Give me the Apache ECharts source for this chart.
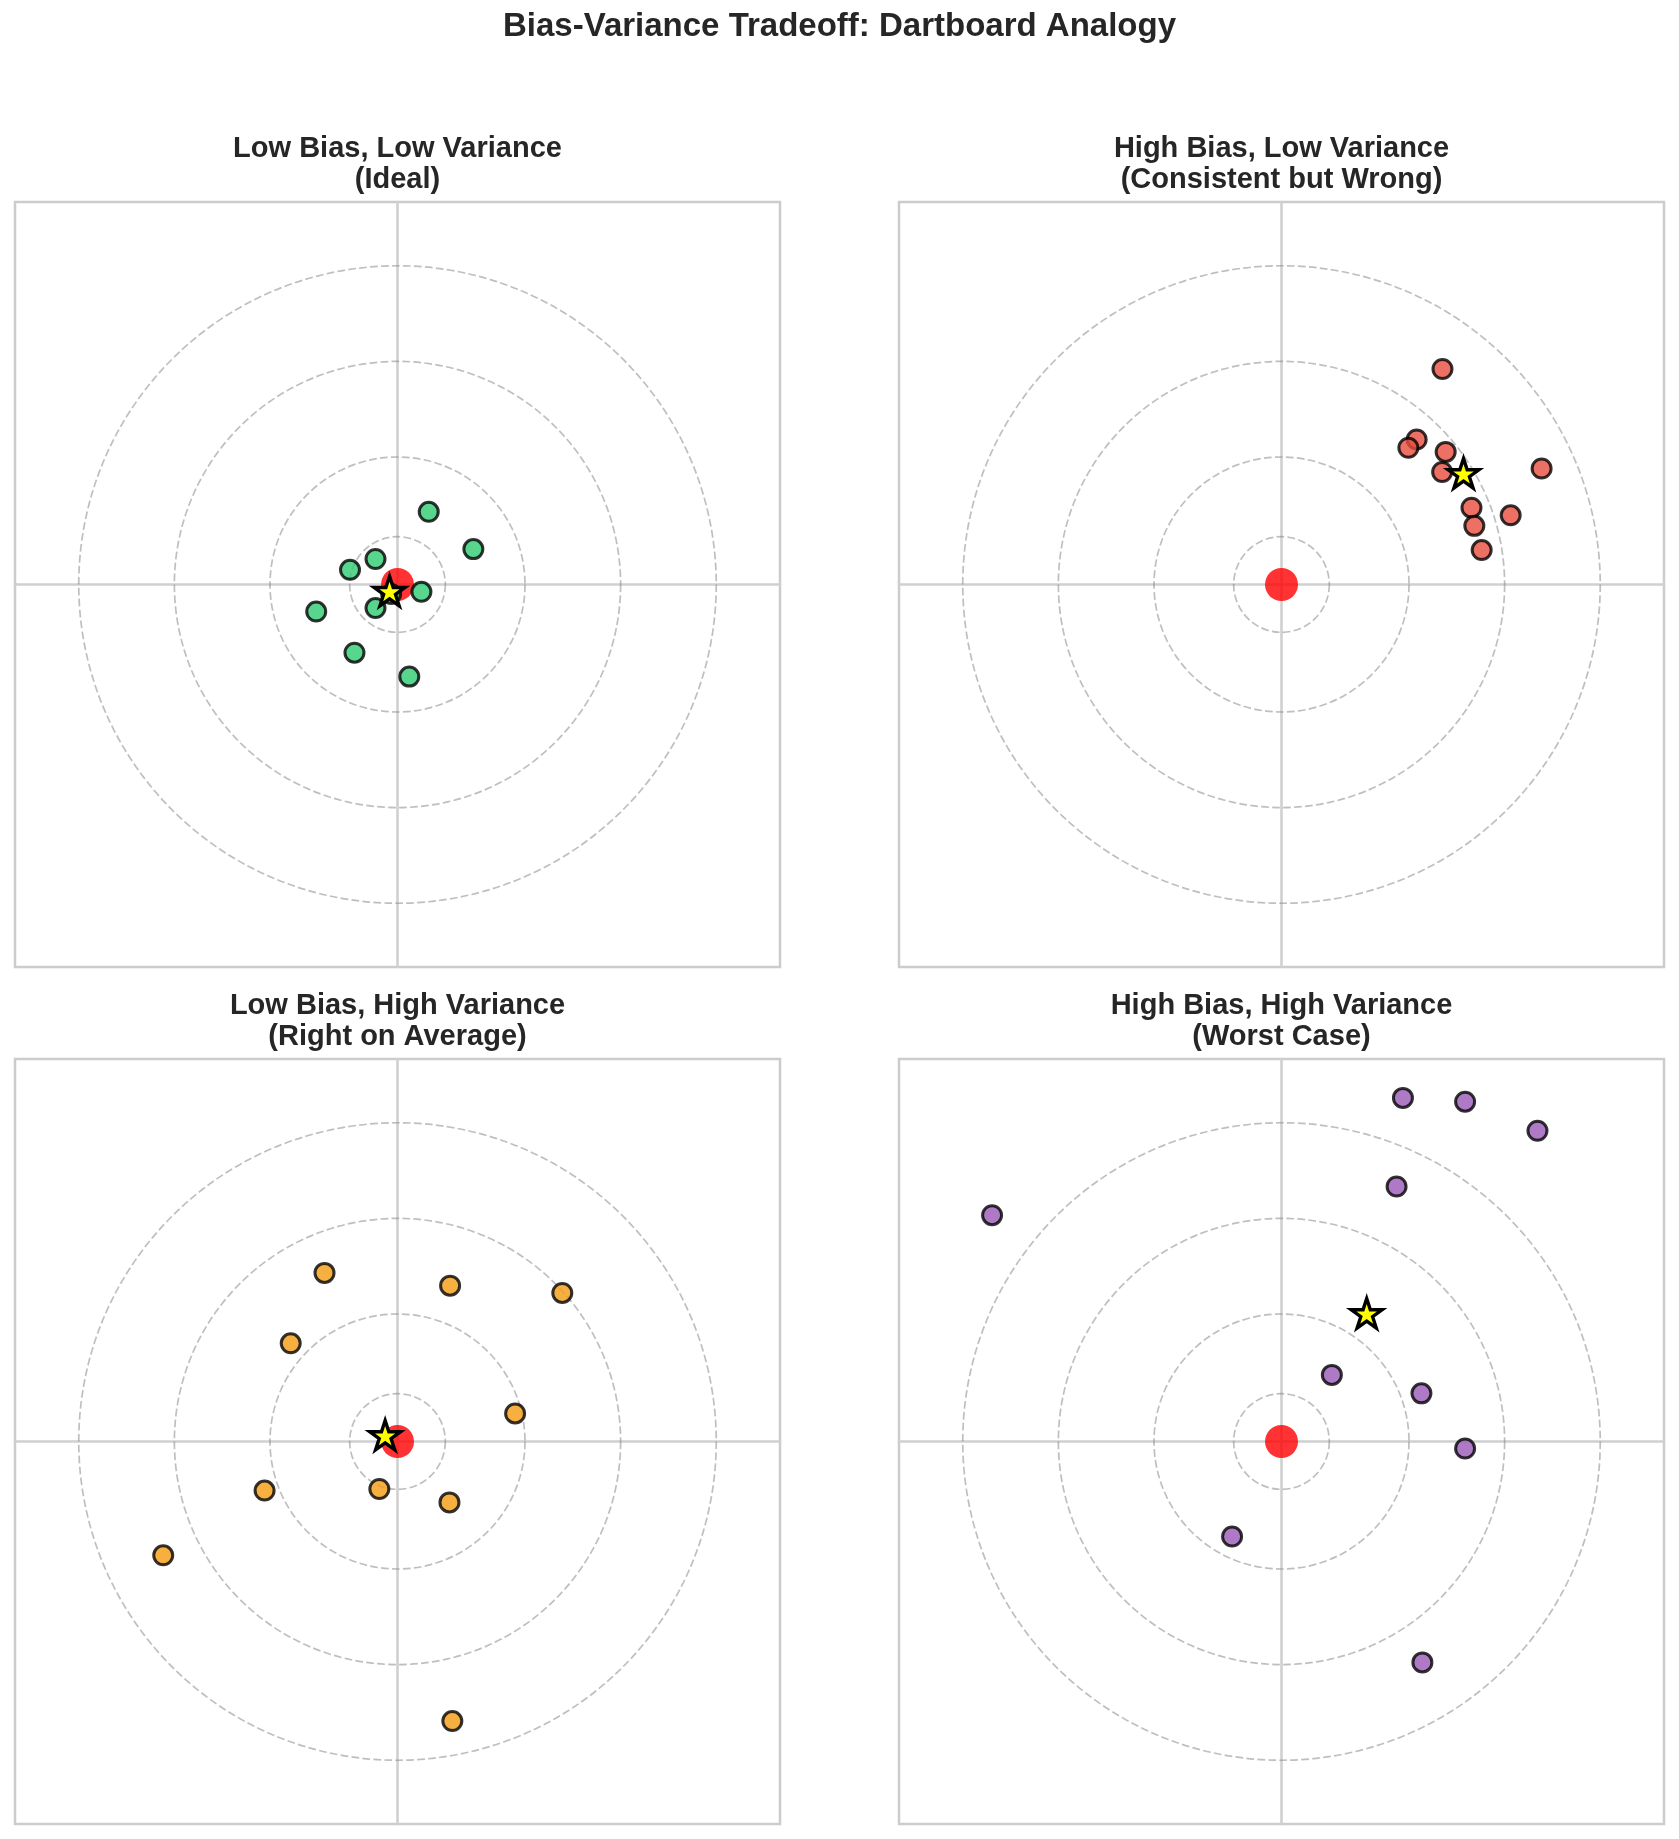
<!DOCTYPE html>
<html>
<head>
<meta charset="utf-8">
<title>Bias-Variance Tradeoff</title>
<script src="https://cdn.jsdelivr.net/npm/echarts@6/dist/echarts.min.js"></script>
<style>
    html, body { margin: 0; padding: 0; background: #fff; }
    #main { width: 1679px; height: 1839px; }
</style>
</head>
<body>
<div id="main"></div>
<script>
// dartboard rings (data units), axes run from -1.2 to 1.2
var ringRadii = [0.15, 0.4, 0.7, 1.0];
var target = [[0, 0]];

// darts for each case
var idealDarts = [
    [0.098, 0.228], [0.238, 0.111], [-0.069, 0.080], [-0.149, 0.046], [0.075, -0.023],
    [-0.069, -0.074], [-0.255, -0.085], [-0.135, -0.214], [0.037, -0.289], [-0.020, -0.030]
];
var consistentDarts = [
    [0.505, 0.676], [0.424, 0.455], [0.398, 0.429], [0.515, 0.416], [0.504, 0.353],
    [0.816, 0.364], [0.596, 0.241], [0.605, 0.184], [0.719, 0.217], [0.628, 0.108]
];
var averageDarts = [
    [-0.229, 0.529], [0.165, 0.489], [0.517, 0.466], [-0.335, 0.308], [0.369, 0.088],
    [-0.417, -0.154], [-0.057, -0.149], [0.163, -0.191], [-0.735, -0.357], [0.172, -0.877]
];
var worstDarts = [
    [0.381, 1.078], [0.576, 1.066], [0.803, 0.975], [-0.908, 0.710], [0.361, 0.800],
    [0.158, 0.209], [0.439, 0.151], [0.576, -0.022], [-0.155, -0.298], [0.442, -0.693]
];

var panelTitles = [
    ['Low Bias, Low Variance', '(Ideal)'],
    ['High Bias, Low Variance', '(Consistent but Wrong)'],
    ['Low Bias, High Variance', '(Right on Average)'],
    ['High Bias, High Variance', '(Worst Case)']
];
var panelColors = ['#2ecc71', '#e74c3c', '#f39c12', '#9b59b6'];
var panelDarts = [idealDarts, consistentDarts, averageDarts, worstDarts];
var mainTitle = 'Bias-Variance Tradeoff: Dartboard Analogy';

var box = document.getElementById('main');
var myChart = echarts.init(box);

var FONT = '"Liberation Sans", Arial, Helvetica, sans-serif';
var starPath = 'path://M0,-100L22.45,-30.9L95.1,-30.9L36.3,11.8L58.8,80.9L0,38.2L-58.8,80.9L-36.3,11.8L-95.1,-30.9L-22.45,-30.9Z';

// panel placement in pixels
var panelBoxes = [
    {left: 15, top: 202},
    {left: 899, top: 202},
    {left: 15, top: 1059},
    {left: 899, top: 1059}
];
var SIZE = 765;

var grids = [], xAxes = [], yAxes = [], series = [], texts = [];

function meanOf(points) {
    var sx = 0, sy = 0;
    points.forEach(function (p) { sx += p[0]; sy += p[1]; });
    return [sx / points.length, sy / points.length];
}

texts.push({
    type: 'text',
    x: 839.5, y: 27,
    style: {
        text: mainTitle, x: 0, y: 0,
        fill: '#262626', font: 'bold 33px ' + FONT,
        align: 'center', verticalAlign: 'middle',
        textAlign: 'center', textVerticalAlign: 'middle'
    }
});

panelBoxes.forEach(function (b, i) {
    grids.push({
        left: b.left, top: b.top, width: SIZE, height: SIZE,
        show: true, borderColor: '#cccccc', borderWidth: 2.5, backgroundColor: '#fff'
    });
    var axisBase = {
        type: 'value', gridIndex: i, min: -1.2, max: 1.2,
        axisLabel: {show: false}, axisTick: {show: false}, splitLine: {show: false},
        axisLine: {show: true, onZero: true, lineStyle: {color: '#d0d0d0', width: 2.6}}
    };
    xAxes.push(Object.assign({}, axisBase));
    yAxes.push(Object.assign({}, axisBase));

    // dashed rings
    series.push({
        type: 'custom',
        xAxisIndex: i, yAxisIndex: i,
        silent: true, z: 1,
        data: ringRadii.map(function (r) { return [0, 0, r]; }),
        renderItem: function (params, api) {
            var c = api.coord([api.value(0), api.value(1)]);
            var e = api.coord([api.value(0) + api.value(2), api.value(1)]);
            return {
                type: 'circle',
                shape: {cx: c[0], cy: c[1], r: e[0] - c[0]},
                style: {fill: 'none', stroke: 'rgba(128,128,128,0.5)', lineWidth: 1.7, lineDash: [7.7, 3.3]}
            };
        }
    });
    // bullseye
    series.push({
        type: 'scatter', xAxisIndex: i, yAxisIndex: i, z: 2,
        data: target, symbolSize: 33,
        itemStyle: {color: 'red', opacity: 0.8}
    });
    // darts
    series.push({
        type: 'scatter', xAxisIndex: i, yAxisIndex: i, z: 3,
        data: panelDarts[i], symbolSize: 19,
        itemStyle: {color: panelColors[i], borderColor: '#000', borderWidth: 3, opacity: 0.8}
    });
    // mean of the darts
    series.push({
        type: 'scatter', xAxisIndex: i, yAxisIndex: i, z: 4,
        data: [meanOf(panelDarts[i])],
        symbol: starPath, symbolKeepAspect: true, symbolSize: 31, symbolOffset: [0, -1.5],
        itemStyle: {color: '#ffff00', borderColor: '#000000', borderWidth: 3.4, opacity: 1}
    });

    var cx = b.left + SIZE / 2;
    var y1 = b.top - 53, y2 = b.top - 22.5;
    [y1, y2].forEach(function (y, k) {
        texts.push({
            type: 'text',
            x: cx, y: y,
            style: {
                text: panelTitles[i][k], x: 0, y: 0,
                fill: '#262626', font: 'bold 29px ' + FONT,
                align: 'center', verticalAlign: 'middle',
                textAlign: 'center', textVerticalAlign: 'middle'
            }
        });
    });
});

var options = {
    backgroundColor: '#fff',
    animation: false,
    grid: grids,
    xAxis: xAxes,
    yAxis: yAxes,
    series: series,
    graphic: texts
};
myChart.setOption(options);
</script>
</body>
</html>
